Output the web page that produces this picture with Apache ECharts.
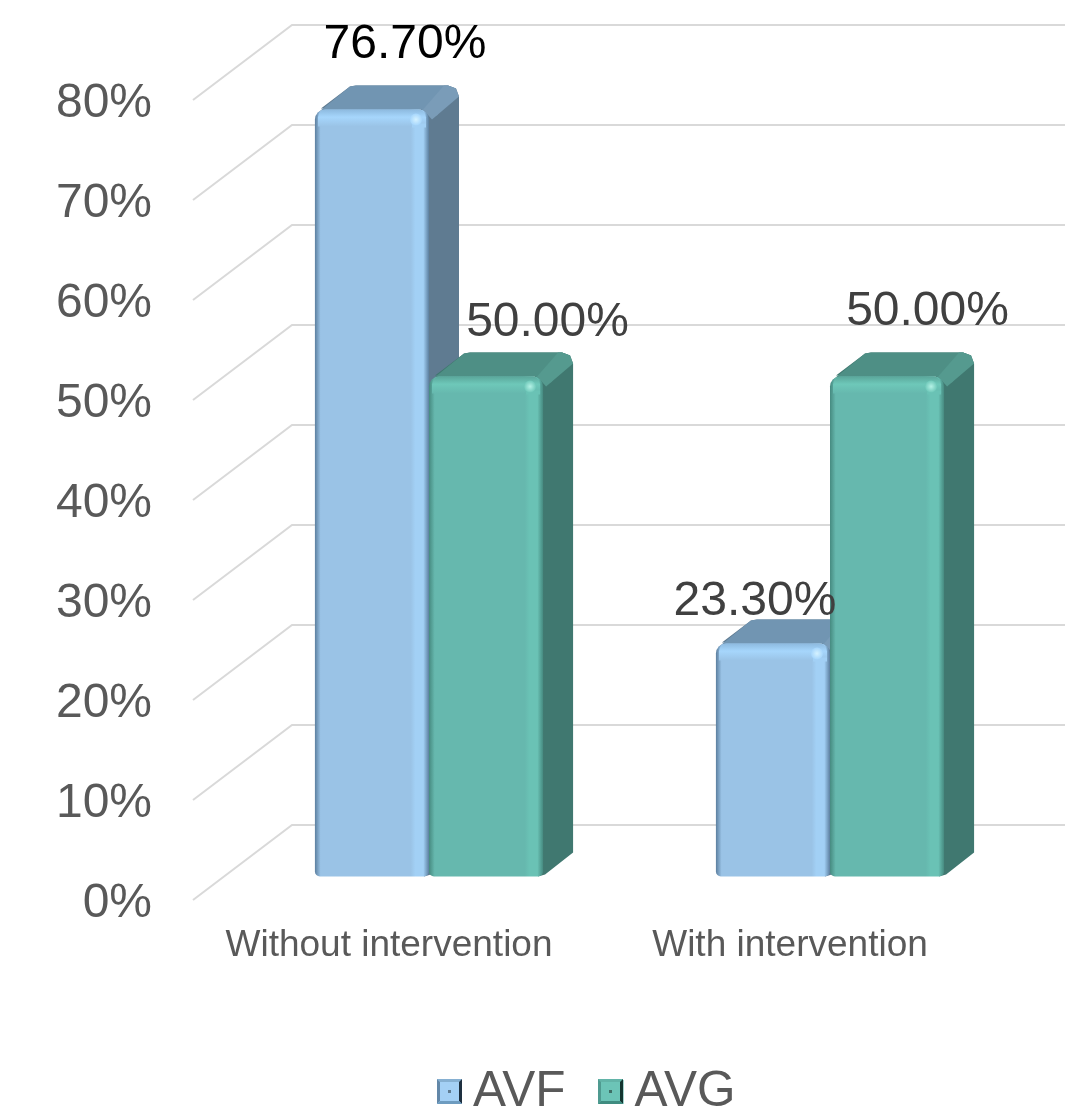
<!DOCTYPE html>
<html>
<head>
<meta charset="utf-8">
<style>html,body{margin:0;padding:0;background:#fff}#c{width:1065px;height:1111px}</style>
<script src="https://cdn.jsdelivr.net/npm/echarts@6/dist/echarts.min.js"></script>
</head>
<body>
<div id="c"></div>
<script>
const categories = ['Without intervention', 'With intervention'];
const avf = [76.7, 23.3];
const avg = [50, 50];
const yTicks = [0, 10, 20, 30, 40, 50, 60, 70, 80];

const FONT = '"Liberation Sans", Arial, sans-serif';
const palette = {
  AVF: {front:'#9AC3E6', light:'#A2D0F5', edge:'#5C7F9F', side:'#5F7B91', top:'#7195B2', ridge:'#7A9CB8', rim:'#8DBADF', glow:'#A6D6FC', spark:'#D5F2FF'},
  AVG: {front:'#66B8AE', light:'#6AC2B5', edge:'#468A80', side:'#407870', top:'#4E8F85', ridge:'#559A8F', rim:'#5BA79B', glow:'#6EC8B9', spark:'#B5F2E6'}
};
const labelNudge = {AVF:[[33,-65],[-18,-42]], AVG:[[61.5,-54],[40.5,-65]]};
const labelColor = {AVF:['#000000','#404040'], AVG:['#404040','#404040']};
const wallDepth = [99, -75], barShift = [35.5, -23.5], barDepth = [30, -24];

function grad(x,y,x2,y2,stops){
  return {type:'linear',x:x,y:y,x2:x2,y2:y2,colorStops:stops.map(s=>({offset:s[0],color:s[1]}))};
}
function barSeries(name, values, order){
  const p = palette[name];
  return {
    type:'custom', name:name, coordinateSystem:'cartesian2d', z:3, clip:false,
    data: categories.map((c,i)=>[i, values[i]]),
    encode:{x:0,y:1},
    itemStyle:{color:p.front},
    renderItem:function(params, api){
      const i = api.value(0), v = api.value(1);
      const band = api.size([1,0])[0];
      const w = band*0.2845;
      const top = api.coord([i,v]), base = api.coord([i,0]);
      const x0 = top[0]+barShift[0]+(order===0?-w:0), x1 = x0+w;
      const yt = top[1]+barShift[1], yb = base[1]+barShift[1];
      const dx = barDepth[0], dy = barDepth[1];
      const n = labelNudge[name][i];
      const kids = [
        {type:'polygon',shape:{points:[[x1-5,yb],[x1+2,yb-2],[x1+dx,yb+dy],[x1+dx,yt+dy+11],[x1+dx-3,yt+dy+3],[x1+dx-11,yt+dy],[x0+dx+11,yt+dy],[x0+dx+5,yt+dy+1],[x0+6,yt-1],[x1-8,yt]]},style:{fill:p.side}},
        {type:'polygon',shape:{points:[[x0+2,yt+4],[x0+8,yt-1],[x0+dx+5,yt+dy+1],[x0+dx+11,yt+dy],[x1+dx-11,yt+dy],[x1+dx-3,yt+dy+3],[x1+8,yt+6],[x1,yt+6],[x1-8,yt]]},style:{fill:p.top}},
        {type:'polygon',shape:{points:[[x1-6,yt],[x1+dx-15,yt+dy],[x1+dx-11,yt+dy],[x1+dx-3,yt+dy+3],[x1+dx,yt+dy+11],[x1+3,yt+10]]},style:{fill:p.ridge}},
        {type:'rect',shape:{x:x0,y:yt,width:w,height:yb-yt,r:[10,10,5,5]},
          style:{fill:grad(0,0,1,0,[[0,p.edge],[0.05,p.front],[0.84,p.front],[0.88,p.light],[0.95,p.light],[1,p.edge]])}},
        {type:'rect',shape:{x:x0+3,y:yt,width:w-6,height:17,r:[8,8,0,0]},
          style:{fill:grad(0,0,0,1,[[0,p.rim],[0.45,p.glow],[1,p.front]])}},
        {type:'rect',shape:{x:x1-17,y:yt+14,width:14,height:4},style:{fill:p.light}},
        {type:'circle',shape:{cx:x1-13,cy:yt+10,r:6},
          style:{fill:{type:'radial',x:0.5,y:0.5,r:0.5,colorStops:[{offset:0,color:p.spark},{offset:1,color:p.glow}]}}},
        {type:'text',z2:100,x:(x0+x1)/2+n[0],y:yt+n[1],
          style:{text:v.toFixed(2)+'%',font:'48px '+FONT,fill:labelColor[name][i],align:'center',verticalAlign:'middle'}}
      ];
      return {type:'group',children:kids};
    }
  };
}
function bevel(x,y,s,c){
  const b=3, m=11;
  const q=[[x,y],[x+s,y],[x+s,y+s],[x,y+s]], r=[[x+b,y+b],[x+s-b,y+b],[x+s-b,y+s-b],[x+b,y+s-b]];
  const side=(a,d,col)=>({type:'polygon',z:20,shape:{points:[q[a],q[d],r[d],r[a]]},style:{fill:col}});
  return [
    {type:'rect',z:20,shape:{x:x,y:y,width:s,height:s},style:{fill:c[0]}},
    side(0,1,c[1]),side(3,0,c[2]),side(1,2,c[3]),side(2,3,c[4]),
    {type:'rect',z:21,shape:{x:x+m,y:y+m,width:s-2*m,height:s-2*m},style:{fill:c[5]}}
  ];
}
const chart = echarts.init(document.getElementById('c'), null, {renderer:'canvas'});
chart.setOption({
  animation:false,
  backgroundColor:'#ffffff',
  textStyle:{fontFamily:FONT},
  grid:{left:193,top:100,width:802,height:800},
  legend:{
    left:437, top:1067, padding:0, icon:'rect', itemWidth:25, itemHeight:24, itemGap:33,
    data:['AVF','AVG'],
    textStyle:{fontSize:49.5,color:'#595959',fontFamily:FONT,padding:[0,0,0,6]}
  },
  xAxis:{type:'category',data:categories,
    axisLine:{show:false},axisTick:{show:false},splitLine:{show:false},
    axisLabel:{fontSize:37,color:'#595959',fontFamily:FONT,margin:27,padding:[0,9,0,0],interval:0}},
  yAxis:{type:'value',min:0,max:80,interval:10,
    axisLine:{show:false},axisTick:{show:false},splitLine:{show:false},
    axisLabel:{fontSize:48,color:'#595959',fontFamily:FONT,margin:41,verticalAlign:'top',lineHeight:8,formatter:'{value}%'}},
  graphic:{elements:[
    ...bevel(437,1079,25,['#A4D0F5','#86B0D2','#6287A8','#1E3040','#6E9CC0','#5F7B91']),
    ...bevel(598,1079,25,['#6CC4B7','#62B4A8','#4F9A90','#143530','#3F8C80','#3E6E66'])
  ]},
  series:[
    {type:'custom',name:'wall',coordinateSystem:'cartesian2d',z:1,clip:false,silent:true,
      data:yTicks.map(t=>[0,t]),encode:{x:0,y:1},
      renderItem:function(params,api){
        const y=api.coord([0,api.value(1)])[1];
        const x=params.coordSys.x;
        return {type:'polyline',shape:{points:[[x,y],[x+wallDepth[0],y+wallDepth[1]],[1070,y+wallDepth[1]]]},
          style:{stroke:'#D9D9D9',lineWidth:2,fill:null}};
      }},
    barSeries('AVF',avf,0),
    barSeries('AVG',avg,1)
  ]
});
</script>
</body>
</html>
